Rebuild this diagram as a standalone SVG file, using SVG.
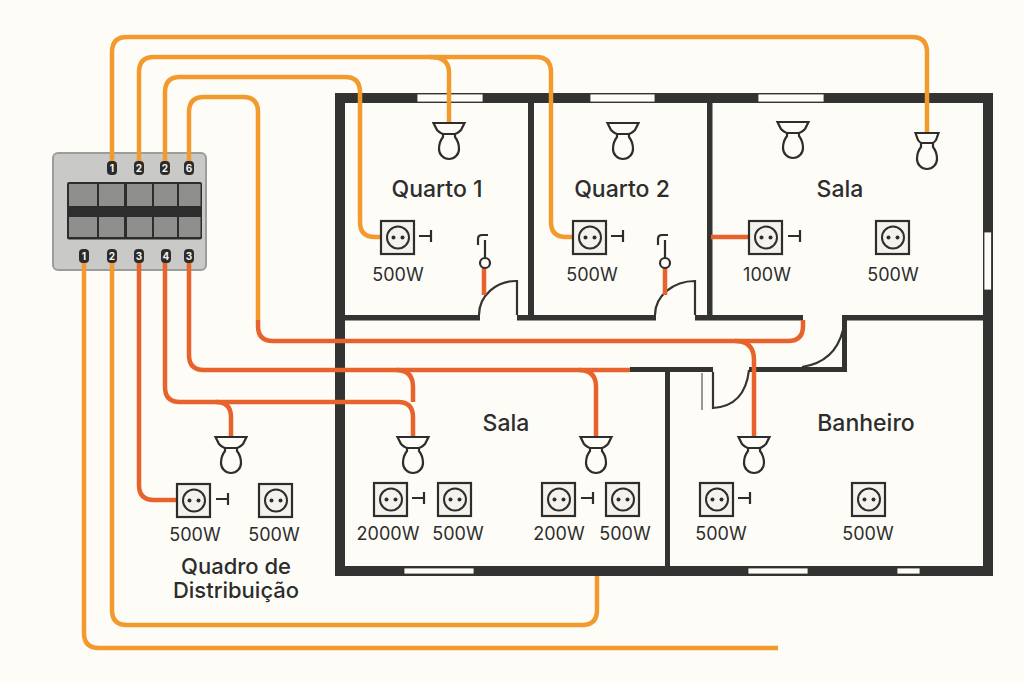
<svg xmlns="http://www.w3.org/2000/svg" width="1024" height="683" viewBox="0 0 1024 683">
<style>
text{font-family:Inter,"Liberation Sans",sans-serif;fill:#2d2d2d;text-anchor:middle}
.room{font-size:23px;font-weight:500}
.q{font-size:22px;font-weight:500}
.w{font-size:18px;font-weight:400}
.b{font-size:10px;font-weight:700;fill:#f4f4f0}
.wall{fill:#333331}
.win{fill:#fdfcf7;stroke:#333331;stroke-width:.8}
.thin{fill:none;stroke:#333331;stroke-width:2.2}
.or{fill:none;stroke:#f39a2e;stroke-width:4.5;stroke-linecap:butt}
.dp{fill:none;stroke:#e8632b;stroke-width:4.5;stroke-linecap:butt}
.ic{fill:#fdfcf7;stroke:#2d2d2d;stroke-width:2.2}
.tk{fill:none;stroke:#2d2d2d;stroke-width:2.2}
.cell{fill:#8f8f8d}
.badge{fill:#2b2b2b}
</style>
<defs>
<g id="lamp"><path class="ic" d="M-6 10V14Q-10 19-10 26A10 10 0 1 0 10 26Q10 19 6 14V10Z"/><path class="ic" d="M-15.500 0H15.500L12 7Q8 11 5 11H-5Q-8 11-12 7Z"/></g>
<g id="lamp2"><path class="ic" d="M-6 10V14Q-10 19-10 26A10 10 0 1 0 10 26Q10 19 6 14V10Z"/><path class="ic" d="M-11.500 0H11.500L9 7Q7 10 5 10H-5Q-7 10-9 7Z"/></g>
<g id="sock"><rect x="0" y="0" width="33" height="33" fill="#f3f2ed" stroke="#2d2d2d" stroke-width="2.200"/><circle cx="17" cy="16.500" r="11" fill="none" stroke="#2d2d2d" stroke-width="2"/><circle cx="12.500" cy="16.500" r="2" fill="#2d2d2d"/><circle cx="21.500" cy="16.500" r="2" fill="#2d2d2d"/></g>
<g id="tick"><path class="tk" d="M0 6H12M12 0V12"/></g>
</defs>
<rect width="1024" height="683" fill="#fdfcf7"/>
<g id="walls">
<rect class="wall" x="335" y="93" width="658" height="10"/>
<rect class="wall" x="335" y="566" width="658" height="10"/>
<rect class="wall" x="335" y="93" width="10" height="483"/>
<rect class="wall" x="983" y="93" width="10" height="483"/>
<rect class="wall" x="528" y="103" width="6" height="213"/>
<rect class="wall" x="707" y="103" width="5.500" height="213"/>
<rect class="wall" x="345" y="315" width="135" height="5.500"/>
<rect class="wall" x="517" y="315" width="139" height="5.500"/>
<rect class="wall" x="695" y="315" width="108" height="5.500"/>
<rect class="wall" x="842" y="315" width="141" height="5.500"/>
<rect class="wall" x="842" y="315" width="5" height="57"/>
<rect class="wall" x="749" y="367" width="98" height="5"/>
<rect class="wall" x="630" y="367" width="83" height="5"/>
<rect class="wall" x="665" y="367" width="5" height="199"/>
<rect class="win" x="417" y="94" width="66" height="8"/>
<rect class="win" x="590" y="94" width="65" height="8"/>
<rect class="win" x="758" y="94" width="66" height="8"/>
<rect class="win" x="984" y="232" width="7.500" height="58"/>
<rect class="win" x="404" y="568" width="70" height="6"/>
<rect class="win" x="748" y="568" width="60" height="6"/>
<rect class="win" x="897" y="568" width="23" height="6"/>
</g>
<g id="doors">
<path class="thin" d="M479 315A37 34 0 0 1 517 281V315"/>
<path class="thin" d="M655 315A40 34 0 0 1 695 281V315"/>
<path class="thin" d="M713 372V408Q745 406 749 370"/>
<path class="thin" d="M802 367Q835 362 843 330"/>
<path d="M702 373V410" fill="none" stroke="#777" stroke-width="1.500"/>
</g>
<g id="panel">
<rect x="53" y="153" width="153" height="117" rx="5" fill="#c9c9c7" stroke="#9c9c9a" stroke-width="2"/>
<rect x="67" y="182" width="135" height="57.500" rx="2" fill="#2d2d2d"/>
<rect class="cell" x="69" y="184" width="28" height="22"/><rect class="cell" x="99" y="184" width="25" height="22"/><rect class="cell" x="127" y="184" width="25" height="22"/><rect class="cell" x="154" y="184" width="23" height="22"/><rect class="cell" x="179" y="184" width="21.500" height="22"/>
<rect class="cell" x="69" y="217" width="28" height="20"/><rect class="cell" x="99" y="217" width="25" height="20"/><rect class="cell" x="127" y="217" width="25" height="20"/><rect class="cell" x="154" y="217" width="23" height="20"/><rect class="cell" x="179" y="217" width="21.500" height="20"/>
</g>
<g id="connectors">
<path class="or" d="M112 165V52Q112 37 127 37H912Q927 37 927 52V133"/>
<path class="or" d="M139 165V72Q139 57 154 57H536Q551 57 551 72V222Q551 237 566 237H573"/>
<path class="or" d="M430 57Q449 57 449 72V123"/>
<path class="or" d="M165 165V92Q165 77 180 77H345Q360 77 360 92V222Q360 237 375 237H381"/>
<path class="or" d="M189 165V112Q189 97 204 97H243Q258 97 258 112V320"/>
<path class="dp" d="M258 320V326Q258 341 273 341H788Q803 341 803 326V320"/>
<path class="dp" d="M735 341Q754 341 754 360V437"/>
<path class="or" d="M84 256V633Q84 648 99 648H778"/>
<path class="or" d="M112 256V610Q112 625 127 625H582Q597 625 597 610V576"/>
<path class="dp" d="M139 256V485Q139 500 154 500H177"/>
<path class="dp" d="M165 256V387Q165 402 180 402H398Q413 402 413 417V437"/>
<path class="dp" d="M216 402Q231 402 231 417V437"/>
<path class="dp" d="M189 256V355Q189 370 204 370H630"/>
<path class="dp" d="M396 370Q413 370 413 387V402"/>
<path class="dp" d="M579 370Q596 370 596 387V437"/>
<path class="dp" d="M711 237H749"/>
<path class="dp" d="M484 268V295"/>
<path class="dp" d="M665 268V295"/>
</g>
<g id="terminals">
<rect class="badge" x="107" y="161" width="10" height="14" rx="4"/><text class="b" x="112" y="172">1</text>
<rect class="badge" x="134" y="161" width="10" height="14" rx="4"/><text class="b" x="139" y="172">2</text>
<rect class="badge" x="160" y="161" width="10" height="14" rx="4"/><text class="b" x="165" y="172">2</text>
<rect class="badge" x="184" y="161" width="10" height="14" rx="4"/><text class="b" x="189" y="172">6</text>
<rect class="badge" x="79" y="249" width="10" height="14" rx="4"/><text class="b" x="84" y="260">1</text>
<rect class="badge" x="107" y="249" width="10" height="14" rx="4"/><text class="b" x="112" y="260">2</text>
<rect class="badge" x="134" y="249" width="10" height="14" rx="4"/><text class="b" x="139" y="260">3</text>
<rect class="badge" x="161" y="249" width="10" height="14" rx="4"/><text class="b" x="166" y="260">4</text>
<rect class="badge" x="184" y="249" width="10" height="14" rx="4"/><text class="b" x="189" y="260">3</text>
</g>
<g id="lamps">
<use href="#lamp" x="449" y="123"/><use href="#lamp" x="623" y="123"/><use href="#lamp" x="793" y="122"/><use href="#lamp2" x="927" y="133"/>
<use href="#lamp" x="231" y="437"/><use href="#lamp" x="413" y="437"/><use href="#lamp" x="596" y="437"/><use href="#lamp" x="754" y="437"/>
</g>
<g id="sockets">
<use href="#sock" x="381" y="221"/><use href="#tick" x="419" y="230"/>
<use href="#sock" x="573" y="221"/><use href="#tick" x="611" y="230"/>
<use href="#sock" x="749" y="221"/><use href="#tick" x="788" y="230"/>
<use href="#sock" x="876" y="221"/>
<use href="#sock" x="177" y="484"/><use href="#tick" x="216" y="493"/>
<use href="#sock" x="259" y="484"/>
<use href="#sock" x="374" y="483"/><use href="#tick" x="412" y="492"/>
<use href="#sock" x="438" y="483"/>
<use href="#sock" x="542" y="483"/><use href="#tick" x="581" y="492"/>
<use href="#sock" x="606" y="483"/>
<use href="#sock" x="700" y="483"/><use href="#tick" x="738" y="492"/>
<use href="#sock" x="852" y="483"/>
</g>
<g id="switches">
<path class="tk" d="M485 240V258M478 245V239Q478 235 482 235H488"/><circle cx="485" cy="263" r="5" fill="#fdfcf7" stroke="#2d2d2d" stroke-width="2.200"/>
<path class="tk" d="M665 240V258M658 245V239Q658 235 662 235H668"/><circle cx="665" cy="263" r="5" fill="#fdfcf7" stroke="#2d2d2d" stroke-width="2.200"/>
</g>
<g id="labels">
<text class="room" x="437" y="197">Quarto 1</text>
<text class="room" x="622" y="197">Quarto 2</text>
<text class="room" x="840" y="197">Sala</text>
<text class="room" x="506" y="431">Sala</text>
<text class="room" x="866" y="431">Banheiro</text>
<text class="q" x="236" y="574">Quadro de</text>
<text class="q" x="236" y="598">Distribuição</text>
<text class="w" x="398" y="281">500W</text>
<text class="w" x="592" y="281">500W</text>
<text class="w" x="767" y="281">100W</text>
<text class="w" x="893" y="281">500W</text>
<text class="w" x="195" y="541">500W</text>
<text class="w" x="274" y="541">500W</text>
<text class="w" x="388" y="540">2000W</text>
<text class="w" x="458" y="540">500W</text>
<text class="w" x="559" y="540">200W</text>
<text class="w" x="625" y="540">500W</text>
<text class="w" x="721" y="540">500W</text>
<text class="w" x="868" y="540">500W</text>
</g>
</svg>
